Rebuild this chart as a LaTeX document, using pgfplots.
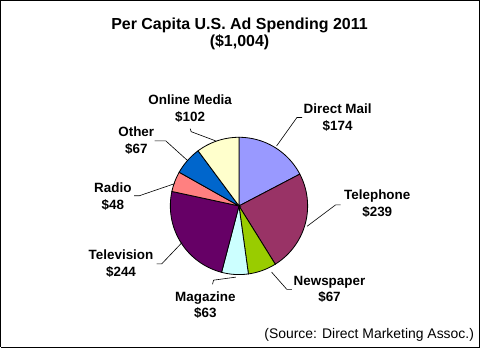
\documentclass[border=0pt]{standalone}
\usepackage{fontspec}
\setmainfont{Liberation Sans}
\usepackage{pgfplots}
\pgfplotsset{compat=1.18}
\definecolor{cDM}{HTML}{9999FF}
\definecolor{cTel}{HTML}{993366}
\definecolor{cNews}{HTML}{99CC00}
\definecolor{cMag}{HTML}{CCFFFF}
\definecolor{cTV}{HTML}{660066}
\definecolor{cRadio}{HTML}{FF8080}
\definecolor{cOther}{HTML}{0066CC}
\definecolor{cOnline}{HTML}{FFFFCC}
% slice: #1 colour, #2 cumulative value before slice, #3 slice value (total 1004)
\newcommand\pieslice[3]{%
  \addplot[draw=black, line width=0.8pt, fill=#1, samples=60, variable=\t,
    domain={90-360*(#2+#3)/1004}:{90-360*(#2)/1004}]
    ({238+67.5*cos(\t)},{144+67.5*sin(\t)}) -- (axis cs:238,144) -- cycle;}
\tikzset{lab/.style={font=\fontsize{13.2}{16.5}\selectfont\bfseries, align=center, inner sep=0pt}}
\begin{document}
\begin{tikzpicture}
\begin{axis}[hide axis, scale only axis, width=480pt, height=351pt,
  xmin=0, xmax=480, ymin=0, ymax=351, clip=false]
% frame
\addplot[black, line width=1pt] coordinates {(3.5,5) (474.5,5) (474.5,346) (3.5,346) (3.5,5)};
% slices: Direct Mail 174, Telephone 239, Newspaper 67, Magazine 63,
% Television 244, Radio 48, Other 67, Online Media 102
\pieslice{cDM}{0}{174}
\pieslice{cTel}{174}{239}
\pieslice{cNews}{413}{67}
\pieslice{cMag}{480}{63}
\pieslice{cTV}{543}{244}
\pieslice{cRadio}{787}{48}
\pieslice{cOther}{835}{67}
\pieslice{cOnline}{902}{102}
% leader lines
\addplot[black, line width=0.6pt] coordinates {(190,220) (191,217) (215,208)};
\addplot[black, line width=0.6pt] coordinates {(155,208) (166,208) (187,189)};
\addplot[black, line width=0.6pt] coordinates {(135,154) (140,154) (175,166)};
\addplot[black, line width=0.6pt] coordinates {(157,87) (162,87) (182,108)};
\addplot[black, line width=0.6pt] coordinates {(212,67) (213,71) (235,74)};
\addplot[black, line width=0.6pt] coordinates {(290,62) (285,62) (270,79)};
\addplot[black, line width=0.6pt] coordinates {(338,145) (333,145) (305,124)};
\addplot[black, line width=0.6pt] coordinates {(300,231) (295,231) (275,203)};
% labels
\node[lab] at (axis cs:190,240) {Online Media\\\$102};
\node[lab] at (axis cs:137,208.5) {Other\\\$67};
\node[lab] at (axis cs:114,153) {Radio\\\$48};
\node[lab] at (axis cs:122,87.5) {Television\\\$244};
\node[lab] at (axis cs:205,46.5) {Magazine\\\$63};
\node[lab] at (axis cs:327,62) {Newspaper\\\$67};
\node[lab] at (axis cs:374,146) {Telephone\\\$239};
\node[lab] at (axis cs:335,230.5) {Direct Mail\\\$174};
% title
\node[font=\fontsize{15.7}{19}\selectfont\bfseries, anchor=base, inner sep=0pt] at (axis cs:238.5,317) {Per Capita U.S. Ad Spending 2011};
\node[font=\fontsize{15.7}{19}\selectfont\bfseries, anchor=base, inner sep=0pt] at (axis cs:238.5,300.5) {(\$1,004)};
\node[font=\fontsize{13.7}{16}\selectfont, anchor=base, inner sep=0pt] at (axis cs:366,14) {(Source: Direct Marketing Assoc.)};
\end{axis}
\end{tikzpicture}
\end{document}
